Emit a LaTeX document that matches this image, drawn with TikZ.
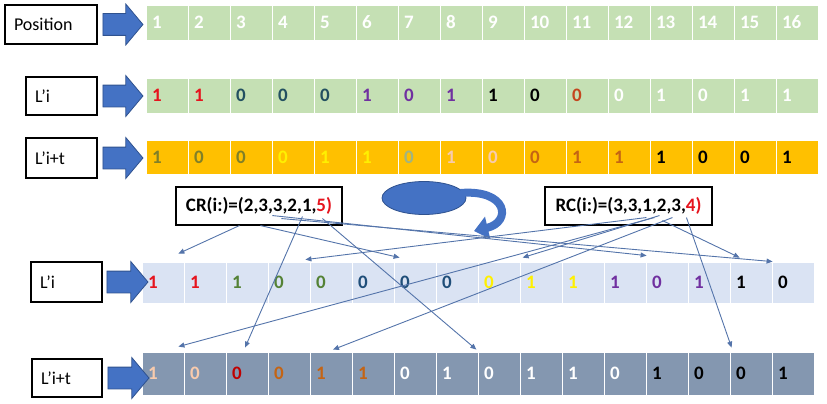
\documentclass[tikz,border=0pt]{standalone}
\usepackage{fontspec}
\setmainfont{Carlito}
\usepackage{xcolor}
\usetikzlibrary{arrows.meta,positioning,calc,shapes.geometric,shapes.arrows}
\definecolor{posgreen}{RGB}{197,224,180}
\definecolor{rowgold}{RGB}{255,192,0}
\definecolor{rowblue}{RGB}{218,227,243}
\definecolor{rowslate}{RGB}{132,151,176}
\definecolor{shapeblue}{RGB}{68,114,196}
\definecolor{shapeedge}{RGB}{47,82,143}
\definecolor{linkblue}{RGB}{84,116,170}
\definecolor{cRed}{RGB}{230,20,30}
\definecolor{cTeal}{RGB}{34,80,96}
\definecolor{cPurple}{RGB}{112,48,160}
\definecolor{cOrange}{RGB}{196,70,30}
\definecolor{cOlive}{RGB}{128,128,40}
\definecolor{cYellow}{RGB}{255,240,0}
\definecolor{cSage}{RGB}{160,180,130}
\definecolor{cPeach}{RGB}{248,203,173}
\definecolor{cBrown}{RGB}{196,100,20}
\definecolor{cDkRed}{RGB}{192,0,0}
\definecolor{cGreen}{RGB}{84,130,53}
\definecolor{cNavy}{RGB}{31,78,121}
\newcommand{\digitfont}{\fontsize{19}{20}\selectfont\bfseries}

\begin{document}
\begin{tikzpicture}[x=1pt,y=-1pt,>=Stealth]
  \tikzstyle{cell}=[rectangle,draw=white,line width=0.8pt,minimum width=42pt,inner xsep=6pt,inner ysep=0pt,text width=30pt,align=left,font=\digitfont]
  \tikzstyle{labbox}=[draw,line width=1.1pt,fill=white,inner xsep=9pt,align=left,minimum height=38pt,font=\fontsize{18}{20}\selectfont]
  \tikzstyle{blockarrow}=[single arrow,fill=shapeblue,draw=shapeedge,line width=0.8pt,minimum height=40pt,inner xsep=0pt,inner ysep=10.5pt,single arrow head extend=9.5pt,single arrow tip angle=100]
  \tikzstyle{codebox}=[draw,line width=1.1pt,fill=white,minimum width=166pt,minimum height=38pt,font=\digitfont]
  \tikzstyle{link}=[linkblue,line width=0.9pt,-{Triangle[length=6pt,width=5pt]}]
  \useasboundingbox (0,0) rectangle (827,404);

  % rows of cells
  \foreach \i in {1,...,16}
    \node[cell,fill=posgreen,minimum height=35pt,text=white] (r1c\i) at (125+42*\i,22.5) {\i};
  \foreach \v/\c [count=\i] in {1/cRed,1/cRed,0/cTeal,0/cTeal,0/cTeal,1/cPurple,0/cPurple,1/cPurple,1/black,0/black,0/cOrange,0/white,1/white,0/white,1/white,1/white}
    \node[cell,fill=posgreen,minimum height=35pt,text=\c] (r2c\i) at (125+42*\i,95.5) {\v};
  \foreach \v/\c [count=\i] in {1/cOlive,0/cOlive,0/cOlive,0/cYellow,1/cYellow,1/cYellow,0/cSage,1/cPeach,0/cPeach,0/cBrown,1/cBrown,1/cBrown,1/black,0/black,0/black,1/black}
    \node[cell,fill=rowgold,minimum height=34pt,text=\c] (r3c\i) at (125+42*\i,157) {\v};
  \foreach \v/\c [count=\i] in {1/cRed,1/cRed,1/cGreen,0/cGreen,0/cGreen,0/cNavy,0/cNavy,0/cNavy,0/cYellow,1/cYellow,1/cYellow,1/cPurple,0/cPurple,1/cPurple,1/black,0/black}
    \node[cell,fill=rowblue,minimum height=41pt,text=\c] (r4c\i) at (121+42*\i,282.5) {\v};
  \foreach \v/\c [count=\i] in {1/cPeach,0/cPeach,0/cDkRed,0/cBrown,1/cBrown,1/cBrown,0/white,1/white,0/white,1/white,1/white,0/white,1/black,0/black,0/black,1/black}
    \node[cell,fill=rowslate,minimum height=43pt,text=\c] (r5c\i) at (121+42*\i,373.5) {\v};

  % row labels
  \node[labbox,text width=74pt,minimum height=39pt] (poslab) at (51,24.5) {Position};
  \node[labbox,text width=53pt] (lab2) at (61.5,96) {L’i};
  \node[labbox,text width=53pt,minimum height=40pt] (lab3) at (61.5,158) {L’i+t};
  \node[labbox,text width=53pt,minimum height=40pt] (lab4) at (66.5,282) {L’i};
  \node[labbox,text width=52pt] (lab5) at (67,378) {L’i+t};
  \node[blockarrow,right=5pt of poslab] (arr1) {};
  \node[blockarrow,right=5pt of lab2] (arr2) {};
  \node[blockarrow,right=5pt of lab3] (arr3) {};
  \node[blockarrow,right=4pt of lab4,minimum height=41pt] (arr4) {};
  \node[blockarrow,right=5pt of lab5,minimum height=41pt] (arr5) {};

  % run lengths and the swap symbol
  \node[codebox] (cr) at (259,206) {CR(i:)=(2,3,3,2,1,{\color{cRed}5)}};
  \node[codebox,minimum width=167pt] (rc) at (628.5,206) {RC(i:)=(3,3,1,2,3,{\color{cRed}4)}};
  \node[ellipse,fill=shapeblue,draw=shapeedge,line width=0.8pt,minimum width=84pt,minimum height=33pt] (swap) at (424,198) {};
  \draw[shapeblue,line width=8pt,-{Triangle[length=14pt,width=22pt]}] ($(swap.east)+(-6,-5)$) .. controls (508,189) and (512,222) .. (474,231);

  % moves from CR
  \draw[link] ($(cr.south west)+(64,0)$) -- ($(r4c1.north east)+(-6,-8)$);
  \draw[link] ($(cr.south west)+(85,0)$) -- ($(r4c7.north west)+(6,-4)$);
  \draw[link] ($(cr.south west)+(127,-9)$) -- ($(r5c3.north)+(-2,-4)$);
  \draw[link] ($(cr.south west)+(147,-7)$) -- ($(r5c8.north east)+(-2,-2)$);
  \draw[link] ($(cr.south west)+(97,-10)$) -- ($(r4c13.north west)+(1,-6)$);
  \draw[link] ($(cr.south west)+(106,-7)$) -- ($(r4c16.north west)+(1,0)$);
  % moves from RC
  \draw[link] ($(rc.south west)+(102,-8)$) -- ($(r4c4.north east)+(-5,-2)$);
  \draw[link] ($(rc.south west)+(115,-10)$) -- ($(r4c10.north west)+(3,-4)$);
  \draw[link] ($(rc.south west)+(110,-8)$) -- ($(r5c1.north east)+(-6,-5)$);
  \draw[link] ($(rc.south west)+(128,-8)$) -- ($(r5c5.north)+(2,-2)$);
  \draw[link] ($(rc.south west)+(118,-5)$) -- ($(r4c15.north west)+(10,-4)$);
  \draw[link] ($(rc.south west)+(142,-8)$) -- ($(r5c15.north west)+(2,-4)$);
\end{tikzpicture}
\end{document}
